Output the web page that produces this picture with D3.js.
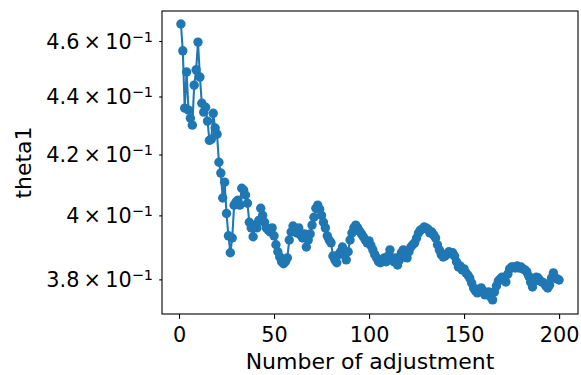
<!DOCTYPE html>
<html>
<head>
<meta charset="utf-8">
<script src="https://cdn.jsdelivr.net/npm/d3@7"></script>
<style>
  body { margin: 0; background: #fff; }
  text { font-family: "DejaVu Sans", sans-serif; fill: #000; }
</style>
</head>
<body>
<div id="chart"></div>
<script>
// theta1 after each adjustment (index 1..200)
const theta1 = [
  0.4663, 0.4564, 0.4359, 0.4487, 0.4352, 0.4324, 0.4300, 0.4440, 0.4495, 0.4596,
  0.4469, 0.4376, 0.4345, 0.4362, 0.4314, 0.4248, 0.4252, 0.4341, 0.4290, 0.4269,
  0.4174, 0.4138, 0.4056, 0.4108, 0.4006, 0.3935, 0.3882, 0.3928, 0.4033, 0.4043,
  0.4049, 0.4033, 0.4088, 0.4082, 0.4066, 0.4039, 0.3978, 0.3960, 0.3932, 0.3969,
  0.3960, 0.3984, 0.4023, 0.4000, 0.3978, 0.3960, 0.3953, 0.3947, 0.3960, 0.3935,
  0.3907, 0.3885, 0.3869, 0.3854, 0.3848, 0.3854, 0.3866, 0.3922, 0.3947, 0.3966,
  0.3953, 0.3944, 0.3960, 0.3938, 0.3928, 0.3941, 0.3900, 0.3922, 0.3941, 0.3969,
  0.3994, 0.4023, 0.4033, 0.4020, 0.4000, 0.3978, 0.3960, 0.3935, 0.3922, 0.3913,
  0.3872, 0.3860, 0.3851, 0.3876, 0.3885, 0.3900, 0.3876, 0.3860, 0.3885, 0.3922,
  0.3944, 0.3960, 0.3969, 0.3960, 0.3950, 0.3941, 0.3932, 0.3922, 0.3913, 0.3919,
  0.3904, 0.3891, 0.3876, 0.3866, 0.3854, 0.3851, 0.3854, 0.3866, 0.3854, 0.3872,
  0.3891, 0.3866, 0.3854, 0.3866, 0.3844, 0.3860, 0.3882, 0.3891, 0.3876, 0.3866,
  0.3885, 0.3900, 0.3907, 0.3913, 0.3928, 0.3944, 0.3953, 0.3956, 0.3963, 0.3960,
  0.3956, 0.3944, 0.3947, 0.3938, 0.3928, 0.3907, 0.3891, 0.3876, 0.3869, 0.3872,
  0.3879, 0.3885, 0.3879, 0.3882, 0.3872, 0.3854, 0.3838, 0.3841, 0.3829, 0.3832,
  0.3820, 0.3813, 0.3804, 0.3789, 0.3774, 0.3765, 0.3759, 0.3768, 0.3774, 0.3765,
  0.3753, 0.3759, 0.3762, 0.3747, 0.3738, 0.3762, 0.3780, 0.3795, 0.3801, 0.3807,
  0.3801, 0.3792, 0.3816, 0.3832, 0.3838, 0.3838, 0.3835, 0.3841, 0.3835, 0.3838,
  0.3832, 0.3829, 0.3823, 0.3810, 0.3792, 0.3777, 0.3795, 0.3807, 0.3804, 0.3795,
  0.3792, 0.3789, 0.3780, 0.3774, 0.3783, 0.3804, 0.3820, 0.3804, 0.3801, 0.3798
];
const steps = theta1.map((d, i) => i + 1);

const xTicks = [0, 50, 100, 150, 200];
const yTicks = [0.38, 0.40, 0.42, 0.44, 0.46];
const yTickLabels = ['3.8', '4', '4.2', '4.4', '4.6'];

const W = 581, H = 375;
const plot = {left: 162, right: 578, top: 11, bottom: 314};
const blue = '#1f77b4';

const svg = d3.select('#chart')
  .append('svg')
    .attr('width', W)
    .attr('height', H);

const x = d3.scaleLinear()
  .domain([-8.95, 209.95])
  .range([plot.left, plot.right]);

const y = d3.scaleLog()
  .domain([0.3696, 0.4712])
  .range([plot.bottom, plot.top]);

// X axis
const xAxis = svg.append('g')
  .attr('transform', 'translate(0,' + plot.bottom + ')')
  .call(d3.axisBottom(x).tickValues(xTicks).tickSize(4.9).tickPadding(8).tickSizeOuter(0));
xAxis.select('.domain').remove();
xAxis.selectAll('line').attr('stroke', '#000').attr('stroke-width', 1.1);
xAxis.selectAll('text')
  .attr('fill', '#000')
  .style('font-size', '20.8px')
  .style('font-family', '"DejaVu Sans", sans-serif');

// Y axis (log), labels as a × 10^-1
const yAxis = svg.append('g')
  .attr('transform', 'translate(' + plot.left + ',0)')
  .call(d3.axisLeft(y).tickValues(yTicks).tickSize(2.8).tickFormat('').tickSizeOuter(0));
yAxis.select('.domain').remove();
yAxis.selectAll('line').attr('stroke', '#000').attr('stroke-width', 1.1);

const yLab = svg.append('g');
yTicks.forEach((t, i) => {
  const txt = yLab.append('text')
    .attr('x', 153)
    .attr('y', y(t) + 7.5)
    .attr('text-anchor', 'end')
    .style('font-size', '20.8px');
  txt.append('tspan').text(yTickLabels[i] + '\u2009\u00d7\u200910');
  txt.append('tspan')
    .attr('dy', -7)
    .style('font-size', '14.5px')
    .text('\u22121');
});

// Line + markers
const line = d3.line()
  .x((d, i) => x(steps[i]))
  .y(d => y(d));

svg.append('path')
  .datum(theta1)
  .attr('fill', 'none')
  .attr('stroke', blue)
  .attr('stroke-width', 2.08)
  .attr('d', line);

svg.append('g')
  .selectAll('circle')
  .data(theta1)
  .enter()
  .append('circle')
    .attr('cx', (d, i) => x(steps[i]))
    .attr('cy', d => y(d))
    .attr('r', 4.7)
    .attr('fill', blue);

// frame
svg.append('rect')
  .attr('x', plot.left)
  .attr('y', plot.top)
  .attr('width', plot.right - plot.left)
  .attr('height', plot.bottom - plot.top)
  .attr('fill', 'none')
  .attr('stroke', '#000')
  .attr('stroke-width', 1.1);

// axis titles
svg.append('text')
  .attr('x', (plot.left + plot.right) / 2)
  .attr('y', 369)
  .attr('text-anchor', 'middle')
  .style('font-size', '22px')
  .text('Number of adjustment');

svg.append('text')
  .attr('transform', 'translate(31,' + (plot.top + plot.bottom) / 2 + ') rotate(-90)')
  .attr('text-anchor', 'middle')
  .style('font-size', '22px')
  .text('theta1');
</script>
</body>
</html>
